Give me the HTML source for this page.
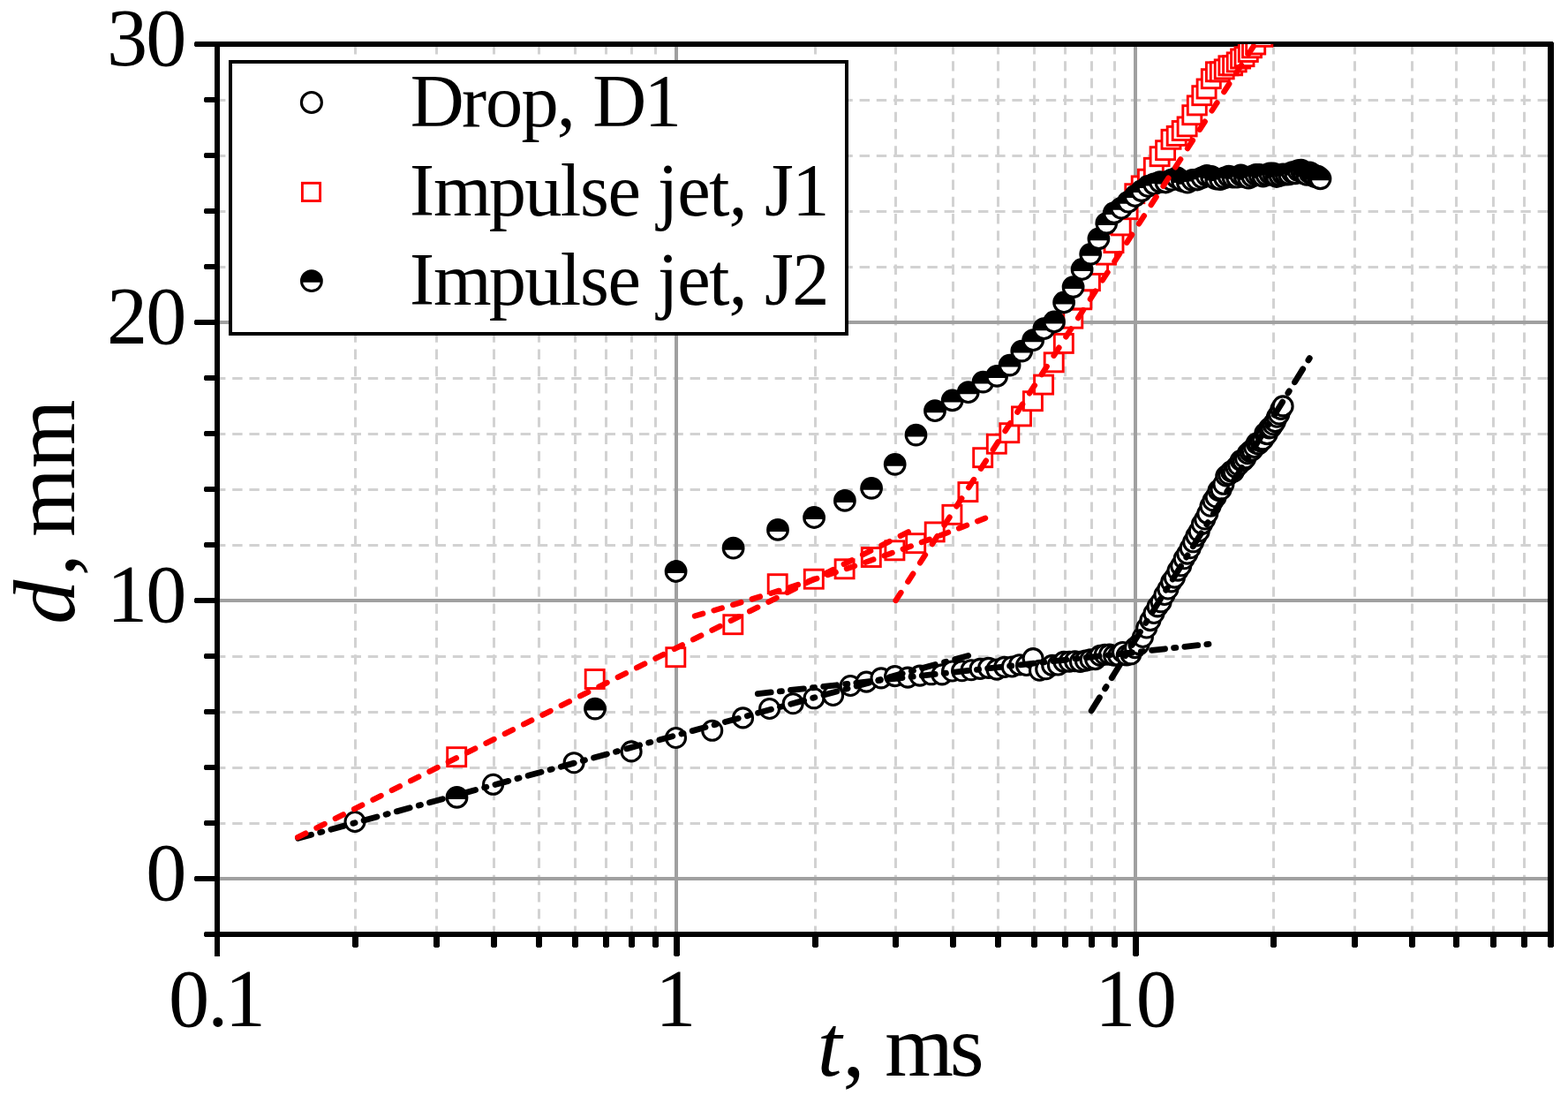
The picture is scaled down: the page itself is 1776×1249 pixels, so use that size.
<!DOCTYPE html>
<html lang="en"><head><meta charset="utf-8"><title>d vs t</title>
<style>html,body{margin:0;padding:0;background:#fff;overflow:hidden;}svg{display:block;}</style>
</head><body>
<svg width="1776" height="1249" viewBox="0 0 1776 1249">
<rect width="1776" height="1249" fill="#fff"/>
<defs><clipPath id="pc"><rect x="246" y="50" width="1510" height="1008"/></clipPath></defs>
<g stroke="#d2d2d2" stroke-width="3" stroke-dasharray="11.4 7.8" fill="none">
<path d="M244 932.5H1756.0"/>
<path d="M244 869.5H1756.0"/>
<path d="M244 806.5H1756.0"/>
<path d="M244 743.5H1756.0"/>
<path d="M244 617.5H1756.0"/>
<path d="M244 554.5H1756.0"/>
<path d="M244 491.5H1756.0"/>
<path d="M244 428.5H1756.0"/>
<path d="M244 302.5H1756.0"/>
<path d="M244 239.5H1756.0"/>
<path d="M244 176.5H1756.0"/>
<path d="M244 113.5H1756.0"/>
<path d="M402.5 50V1058.0"/>
<path d="M494.5 50V1058.0"/>
<path d="M559.5 50V1058.0"/>
<path d="M610.5 50V1058.0"/>
<path d="M651.5 50V1058.0"/>
<path d="M686.5 50V1058.0"/>
<path d="M715.5 50V1058.0"/>
<path d="M742.5 50V1058.0"/>
<path d="M923.5 50V1058.0"/>
<path d="M1014.5 50V1058.0"/>
<path d="M1079.5 50V1058.0"/>
<path d="M1130.5 50V1058.0"/>
<path d="M1171.5 50V1058.0"/>
<path d="M1206.5 50V1058.0"/>
<path d="M1236.5 50V1058.0"/>
<path d="M1262.5 50V1058.0"/>
<path d="M1442.5 50V1058.0"/>
<path d="M1534.5 50V1058.0"/>
<path d="M1599.5 50V1058.0"/>
<path d="M1649.5 50V1058.0"/>
<path d="M1691.5 50V1058.0"/>
<path d="M1726.5 50V1058.0"/>
</g>
<g stroke="#a0a0a0" stroke-width="4" fill="none">
<path d="M246.1 995H1756.0"/>
<path d="M246.1 680H1756.0"/>
<path d="M246.1 365H1756.0"/>
<path d="M766 50.0V1058.0"/>
<path d="M1286 50.0V1058.0"/>
</g>
<g fill="#000">
<rect x="243" y="47" width="6" height="1036" rx="0"/>
<path d="M1753 47H1758.6L1760 48.6V1071.6L1758.6 1073H1754.4L1753 1071.6Z"/>
<rect x="243" y="47" width="1515" height="6"/>
<rect x="243" y="1055" width="1515" height="6"/>
<path d="M221.2 47H246V53H221.2L220 51.8V48.2Z"/>
<path d="M232.2 1055H246V1061H232.2L231 1059.8V1056.2Z"/>
<path d="M221.2 992H246V998H221.2L220 996.8V993.2Z"/>
<path d="M232.2 929H246V935H232.2L231 933.8V930.2Z"/>
<path d="M232.2 866H246V872H232.2L231 870.8V867.2Z"/>
<path d="M232.2 803H246V809H232.2L231 807.8V804.2Z"/>
<path d="M232.2 740H246V746H232.2L231 744.8V741.2Z"/>
<path d="M221.2 677H246V683H221.2L220 681.8V678.2Z"/>
<path d="M232.2 614H246V620H232.2L231 618.8V615.2Z"/>
<path d="M232.2 551H246V557H232.2L231 555.8V552.2Z"/>
<path d="M232.2 488H246V494H232.2L231 492.8V489.2Z"/>
<path d="M232.2 425H246V431H232.2L231 429.8V426.2Z"/>
<path d="M221.2 362H246V368H221.2L220 366.8V363.2Z"/>
<path d="M232.2 299H246V305H232.2L231 303.8V300.2Z"/>
<path d="M232.2 236H246V242H232.2L231 240.8V237.2Z"/>
<path d="M232.2 173H246V179H232.2L231 177.8V174.2Z"/>
<path d="M232.2 110H246V116H232.2L231 114.8V111.2Z"/>
<path d="M243.0 1058H249.0V1081.6L247.6 1083H244.4L243.0 1081.6Z"/>
<path d="M399.0 1058H406.0V1071.6L404.6 1073H400.4L399.0 1071.6Z"/>
<path d="M491.0 1058H498.0V1071.6L496.6 1073H492.4L491.0 1071.6Z"/>
<path d="M556.0 1058H563.0V1071.6L561.6 1073H557.4L556.0 1071.6Z"/>
<path d="M607.0 1058H614.0V1071.6L612.6 1073H608.4L607.0 1071.6Z"/>
<path d="M648.0 1058H655.0V1071.6L653.6 1073H649.4L648.0 1071.6Z"/>
<path d="M683.0 1058H690.0V1071.6L688.6 1073H684.4L683.0 1071.6Z"/>
<path d="M712.0 1058H719.0V1071.6L717.6 1073H713.4L712.0 1071.6Z"/>
<path d="M739.0 1058H746.0V1071.6L744.6 1073H740.4L739.0 1071.6Z"/>
<path d="M763.0 1058H770.0V1081.6L768.6 1083H764.4L763.0 1081.6Z"/>
<path d="M920.0 1058H927.0V1071.6L925.6 1073H921.4L920.0 1071.6Z"/>
<path d="M1011.0 1058H1018.0V1071.6L1016.6 1073H1012.4L1011.0 1071.6Z"/>
<path d="M1076.0 1058H1083.0V1071.6L1081.6 1073H1077.4L1076.0 1071.6Z"/>
<path d="M1127.0 1058H1134.0V1071.6L1132.6 1073H1128.4L1127.0 1071.6Z"/>
<path d="M1168.0 1058H1175.0V1071.6L1173.6 1073H1169.4L1168.0 1071.6Z"/>
<path d="M1203.0 1058H1210.0V1071.6L1208.6 1073H1204.4L1203.0 1071.6Z"/>
<path d="M1233.0 1058H1240.0V1071.6L1238.6 1073H1234.4L1233.0 1071.6Z"/>
<path d="M1259.0 1058H1266.0V1071.6L1264.6 1073H1260.4L1259.0 1071.6Z"/>
<path d="M1283.0 1058H1290.0V1081.6L1288.6 1083H1284.4L1283.0 1081.6Z"/>
<path d="M1439.0 1058H1446.0V1071.6L1444.6 1073H1440.4L1439.0 1071.6Z"/>
<path d="M1531.0 1058H1538.0V1071.6L1536.6 1073H1532.4L1531.0 1071.6Z"/>
<path d="M1596.0 1058H1603.0V1071.6L1601.6 1073H1597.4L1596.0 1071.6Z"/>
<path d="M1646.0 1058H1653.0V1071.6L1651.6 1073H1647.4L1646.0 1071.6Z"/>
<path d="M1688.0 1058H1695.0V1071.6L1693.6 1073H1689.4L1688.0 1071.6Z"/>
<path d="M1723.0 1058H1730.0V1071.6L1728.6 1073H1724.4L1723.0 1071.6Z"/>
</g>
<g clip-path="url(#pc)">
<g fill="#fff" stroke="#000" stroke-width="3.1">
<circle cx="402.0" cy="930.5" r="11"/>
<circle cx="558.6" cy="888.3" r="11"/>
<circle cx="650.1" cy="863.7" r="11"/>
<circle cx="715.1" cy="850.9" r="11"/>
<circle cx="765.5" cy="835.5" r="11"/>
<circle cx="806.7" cy="827.3" r="11"/>
<circle cx="841.5" cy="812.9" r="11"/>
<circle cx="871.6" cy="802.5" r="11"/>
<circle cx="898.2" cy="796.7" r="11"/>
<circle cx="922.0" cy="790.8" r="11"/>
<circle cx="943.6" cy="787.5" r="11"/>
<circle cx="963.2" cy="776.5" r="11"/>
<circle cx="981.3" cy="772.1" r="11"/>
<circle cx="998.0" cy="767.9" r="11"/>
<circle cx="1013.6" cy="765.6" r="11"/>
<circle cx="1028.2" cy="767.1" r="11"/>
<circle cx="1041.9" cy="765.1" r="11"/>
<circle cx="1054.8" cy="763.8" r="11"/>
<circle cx="1067.0" cy="763.9" r="11"/>
<circle cx="1078.6" cy="760.0" r="11"/>
<circle cx="1089.6" cy="759.7" r="11"/>
<circle cx="1100.1" cy="758.7" r="11"/>
<circle cx="1110.1" cy="757.4" r="11"/>
<circle cx="1119.7" cy="756.4" r="11"/>
<circle cx="1129.0" cy="758.1" r="11"/>
<circle cx="1137.8" cy="755.4" r="11"/>
<circle cx="1146.3" cy="755.0" r="11"/>
<circle cx="1154.6" cy="752.8" r="11"/>
<circle cx="1162.5" cy="753.5" r="11"/>
<circle cx="1170.1" cy="745.6" r="11"/>
<circle cx="1177.5" cy="759.2" r="11"/>
<circle cx="1184.7" cy="757.7" r="11"/>
<circle cx="1191.7" cy="753.4" r="11"/>
<circle cx="1198.4" cy="753.0" r="11"/>
<circle cx="1205.0" cy="749.4" r="11"/>
<circle cx="1211.3" cy="749.2" r="11"/>
<circle cx="1217.5" cy="748.7" r="11"/>
<circle cx="1223.5" cy="749.4" r="11"/>
<circle cx="1229.4" cy="748.1" r="11"/>
<circle cx="1235.1" cy="746.9" r="11"/>
<circle cx="1240.7" cy="746.6" r="11"/>
<circle cx="1246.1" cy="742.4" r="11"/>
<circle cx="1251.4" cy="741.2" r="11"/>
<circle cx="1256.6" cy="741.1" r="11"/>
<circle cx="1261.7" cy="742.2" r="11"/>
<circle cx="1266.7" cy="742.4" r="11"/>
<circle cx="1271.5" cy="738.5" r="11"/>
<circle cx="1276.3" cy="742.0" r="11"/>
<circle cx="1280.9" cy="740.8" r="11"/>
<circle cx="1285.5" cy="733.6" r="11"/>
<circle cx="1290.0" cy="729.6" r="11"/>
<circle cx="1294.4" cy="721.5" r="11"/>
<circle cx="1298.7" cy="711.0" r="11"/>
<circle cx="1302.9" cy="702.6" r="11"/>
<circle cx="1307.0" cy="694.5" r="11"/>
<circle cx="1311.1" cy="686.9" r="11"/>
<circle cx="1315.1" cy="681.8" r="11"/>
<circle cx="1319.0" cy="673.5" r="11"/>
<circle cx="1322.9" cy="667.0" r="11"/>
<circle cx="1326.7" cy="658.9" r="11"/>
<circle cx="1330.4" cy="654.1" r="11"/>
<circle cx="1334.1" cy="646.1" r="11"/>
<circle cx="1337.7" cy="640.7" r="11"/>
<circle cx="1341.2" cy="632.7" r="11"/>
<circle cx="1344.8" cy="627.1" r="11"/>
<circle cx="1348.2" cy="620.7" r="11"/>
<circle cx="1351.6" cy="613.8" r="11"/>
<circle cx="1354.9" cy="606.8" r="11"/>
<circle cx="1358.2" cy="601.7" r="11"/>
<circle cx="1361.5" cy="593.4" r="11"/>
<circle cx="1364.7" cy="588.0" r="11"/>
<circle cx="1367.8" cy="581.6" r="11"/>
<circle cx="1371.0" cy="573.2" r="11"/>
<circle cx="1374.0" cy="566.9" r="11"/>
<circle cx="1377.1" cy="562.7" r="11"/>
<circle cx="1380.1" cy="555.4" r="11"/>
<circle cx="1383.0" cy="554.4" r="11"/>
<circle cx="1385.9" cy="548.3" r="11"/>
<circle cx="1388.8" cy="539.0" r="11"/>
<circle cx="1391.6" cy="537.2" r="11"/>
<circle cx="1394.4" cy="533.8" r="11"/>
<circle cx="1397.2" cy="534.1" r="11"/>
<circle cx="1400.0" cy="529.3" r="11"/>
<circle cx="1402.7" cy="526.7" r="11"/>
<circle cx="1405.3" cy="521.5" r="11"/>
<circle cx="1408.0" cy="521.9" r="11"/>
<circle cx="1410.6" cy="518.9" r="11"/>
<circle cx="1413.2" cy="513.7" r="11"/>
<circle cx="1415.7" cy="511.4" r="11"/>
<circle cx="1418.2" cy="510.0" r="11"/>
<circle cx="1420.7" cy="506.5" r="11"/>
<circle cx="1423.2" cy="502.1" r="11"/>
<circle cx="1425.6" cy="502.8" r="11"/>
<circle cx="1428.1" cy="499.9" r="11"/>
<circle cx="1430.5" cy="497.9" r="11"/>
<circle cx="1432.8" cy="490.7" r="11"/>
<circle cx="1435.2" cy="491.6" r="11"/>
<circle cx="1437.5" cy="485.0" r="11"/>
<circle cx="1439.8" cy="484.2" r="11"/>
<circle cx="1442.0" cy="480.7" r="11"/>
<circle cx="1444.3" cy="477.6" r="11"/>
<circle cx="1446.5" cy="472.2" r="11"/>
<circle cx="1448.7" cy="469.0" r="11"/>
<circle cx="1450.9" cy="463.4" r="11"/>
<circle cx="1453.1" cy="459.9" r="11"/>
</g>
<path d="M337.7 949.3L1100.4 741.4" fill="none" stroke="#000" stroke-width="6.8" stroke-linecap="round" stroke-dasharray="15.44 10.42 2.28 10.42"/>
<path d="M858.3 785.6L1372.0 729.0" fill="none" stroke="#000" stroke-width="6.8" stroke-linecap="round" stroke-dasharray="14.99 10.11 2.21 10.11"/>
<path d="M1236.2 804.8L1484.1 404.3" fill="none" stroke="#000" stroke-width="6.8" stroke-linecap="round" stroke-dasharray="17.52 11.82 2.59 11.82"/>
<g fill="#fff" stroke="#f00" stroke-width="2.9">
<rect x="506.7" y="846.7" width="21.0" height="21.0"/>
<rect x="663.2" y="758.5" width="21.0" height="21.0"/>
<rect x="754.8" y="733.7" width="21.0" height="21.0"/>
<rect x="819.8" y="696.7" width="21.0" height="21.0"/>
<rect x="870.2" y="650.7" width="21.0" height="21.0"/>
<rect x="911.3" y="645.2" width="21.0" height="21.0"/>
<rect x="946.1" y="633.8" width="21.0" height="21.0"/>
<rect x="976.3" y="620.5" width="21.0" height="21.0"/>
<rect x="1002.9" y="612.8" width="21.0" height="21.0"/>
<rect x="1026.7" y="604.7" width="21.0" height="21.0"/>
<rect x="1048.2" y="591.9" width="21.0" height="21.0"/>
<rect x="1067.9" y="572.3" width="21.0" height="21.0"/>
<rect x="1085.9" y="546.6" width="21.0" height="21.0"/>
<rect x="1102.7" y="507.7" width="21.0" height="21.0"/>
<rect x="1118.3" y="492.2" width="21.0" height="21.0"/>
<rect x="1132.8" y="479.7" width="21.0" height="21.0"/>
<rect x="1146.5" y="460.9" width="21.0" height="21.0"/>
<rect x="1159.4" y="443.7" width="21.0" height="21.0"/>
<rect x="1171.6" y="425.1" width="21.0" height="21.0"/>
<rect x="1183.2" y="399.8" width="21.0" height="21.0"/>
<rect x="1194.3" y="378.4" width="21.0" height="21.0"/>
<rect x="1204.8" y="350.2" width="21.0" height="21.0"/>
<rect x="1214.8" y="328.8" width="21.0" height="21.0"/>
<rect x="1224.4" y="307.7" width="21.0" height="21.0"/>
<rect x="1233.6" y="289.4" width="21.0" height="21.0"/>
<rect x="1242.5" y="278.1" width="21.0" height="21.0"/>
<rect x="1251.0" y="264.6" width="21.0" height="21.0"/>
<rect x="1259.2" y="244.9" width="21.0" height="21.0"/>
<rect x="1267.1" y="226.7" width="21.0" height="21.0"/>
<rect x="1274.8" y="208.7" width="21.0" height="21.0"/>
<rect x="1282.2" y="199.9" width="21.0" height="21.0"/>
<rect x="1289.4" y="192.2" width="21.0" height="21.0"/>
<rect x="1296.3" y="179.3" width="21.0" height="21.0"/>
<rect x="1303.1" y="166.7" width="21.0" height="21.0"/>
<rect x="1309.6" y="159.7" width="21.0" height="21.0"/>
<rect x="1316.0" y="147.3" width="21.0" height="21.0"/>
<rect x="1322.2" y="143.4" width="21.0" height="21.0"/>
<rect x="1328.2" y="137.5" width="21.0" height="21.0"/>
<rect x="1334.1" y="132.9" width="21.0" height="21.0"/>
<rect x="1339.8" y="119.7" width="21.0" height="21.0"/>
<rect x="1345.3" y="108.9" width="21.0" height="21.0"/>
<rect x="1350.8" y="97.7" width="21.0" height="21.0"/>
<rect x="1356.1" y="90.0" width="21.0" height="21.0"/>
<rect x="1361.3" y="78.7" width="21.0" height="21.0"/>
<rect x="1366.4" y="70.8" width="21.0" height="21.0"/>
<rect x="1371.3" y="70.8" width="21.0" height="21.0"/>
<rect x="1376.2" y="67.9" width="21.0" height="21.0"/>
<rect x="1380.9" y="63.8" width="21.0" height="21.0"/>
<rect x="1385.6" y="63.8" width="21.0" height="21.0"/>
<rect x="1390.2" y="59.9" width="21.0" height="21.0"/>
<rect x="1394.6" y="56.0" width="21.0" height="21.0"/>
<rect x="1399.0" y="53.7" width="21.0" height="21.0"/>
<rect x="1403.3" y="48.5" width="21.0" height="21.0"/>
<rect x="1407.5" y="43.8" width="21.0" height="21.0"/>
<rect x="1411.7" y="40.0" width="21.0" height="21.0"/>
<rect x="1415.8" y="19.7" width="21.0" height="21.0"/>
<rect x="1419.8" y="31.3" width="21.0" height="21.0"/>
</g>
<g fill="#fff" stroke="#000" stroke-width="3.2">
<circle cx="517.5" cy="902.9" r="11.3"/>
<path d="M506.4 904.9A11.3 11.3 0 1 1 528.6 904.9Z" fill="#000" stroke="none"/>
<circle cx="674.0" cy="802.6" r="11.3"/>
<path d="M662.9 804.6A11.3 11.3 0 1 1 685.2 804.6Z" fill="#000" stroke="none"/>
<circle cx="765.6" cy="647.0" r="11.3"/>
<path d="M754.5 649.0A11.3 11.3 0 1 1 776.7 649.0Z" fill="#000" stroke="none"/>
<circle cx="830.6" cy="620.7" r="11.3"/>
<path d="M819.4 622.7A11.3 11.3 0 1 1 841.7 622.7Z" fill="#000" stroke="none"/>
<circle cx="881.0" cy="599.9" r="11.3"/>
<path d="M869.8 601.9A11.3 11.3 0 1 1 892.1 601.9Z" fill="#000" stroke="none"/>
<circle cx="922.1" cy="586.0" r="11.3"/>
<path d="M911.0 588.0A11.3 11.3 0 1 1 933.3 588.0Z" fill="#000" stroke="none"/>
<circle cx="956.9" cy="566.9" r="11.3"/>
<path d="M945.8 568.9A11.3 11.3 0 1 1 968.1 568.9Z" fill="#000" stroke="none"/>
<circle cx="987.1" cy="552.8" r="11.3"/>
<path d="M976.0 554.8A11.3 11.3 0 1 1 998.2 554.8Z" fill="#000" stroke="none"/>
<circle cx="1013.7" cy="525.8" r="11.3"/>
<path d="M1002.6 527.8A11.3 11.3 0 1 1 1024.8 527.8Z" fill="#000" stroke="none"/>
<circle cx="1037.5" cy="492.6" r="11.3"/>
<path d="M1026.4 494.6A11.3 11.3 0 1 1 1048.6 494.6Z" fill="#000" stroke="none"/>
<circle cx="1059.0" cy="465.2" r="11.3"/>
<path d="M1047.9 467.2A11.3 11.3 0 1 1 1070.1 467.2Z" fill="#000" stroke="none"/>
<circle cx="1078.7" cy="453.4" r="11.3"/>
<path d="M1067.5 455.4A11.3 11.3 0 1 1 1089.8 455.4Z" fill="#000" stroke="none"/>
<circle cx="1096.7" cy="444.2" r="11.3"/>
<path d="M1085.6 446.2A11.3 11.3 0 1 1 1107.9 446.2Z" fill="#000" stroke="none"/>
<circle cx="1113.5" cy="432.6" r="11.3"/>
<path d="M1102.4 434.6A11.3 11.3 0 1 1 1124.6 434.6Z" fill="#000" stroke="none"/>
<circle cx="1129.1" cy="425.9" r="11.3"/>
<path d="M1117.9 427.9A11.3 11.3 0 1 1 1140.2 427.9Z" fill="#000" stroke="none"/>
<circle cx="1143.6" cy="413.6" r="11.3"/>
<path d="M1132.5 415.6A11.3 11.3 0 1 1 1154.8 415.6Z" fill="#000" stroke="none"/>
<circle cx="1157.3" cy="397.6" r="11.3"/>
<path d="M1146.2 399.6A11.3 11.3 0 1 1 1168.5 399.6Z" fill="#000" stroke="none"/>
<circle cx="1170.2" cy="385.2" r="11.3"/>
<path d="M1159.1 387.2A11.3 11.3 0 1 1 1181.4 387.2Z" fill="#000" stroke="none"/>
<circle cx="1182.4" cy="372.2" r="11.3"/>
<path d="M1171.3 374.2A11.3 11.3 0 1 1 1193.6 374.2Z" fill="#000" stroke="none"/>
<circle cx="1194.0" cy="364.5" r="11.3"/>
<path d="M1182.9 366.5A11.3 11.3 0 1 1 1205.2 366.5Z" fill="#000" stroke="none"/>
<circle cx="1205.1" cy="342.5" r="11.3"/>
<path d="M1193.9 344.5A11.3 11.3 0 1 1 1216.2 344.5Z" fill="#000" stroke="none"/>
<circle cx="1215.6" cy="325.1" r="11.3"/>
<path d="M1204.4 327.1A11.3 11.3 0 1 1 1226.7 327.1Z" fill="#000" stroke="none"/>
<circle cx="1225.6" cy="305.0" r="11.3"/>
<path d="M1214.5 307.0A11.3 11.3 0 1 1 1236.7 307.0Z" fill="#000" stroke="none"/>
<circle cx="1235.2" cy="287.8" r="11.3"/>
<path d="M1224.1 289.8A11.3 11.3 0 1 1 1246.3 289.8Z" fill="#000" stroke="none"/>
<circle cx="1244.4" cy="270.3" r="11.3"/>
<path d="M1233.3 272.3A11.3 11.3 0 1 1 1255.5 272.3Z" fill="#000" stroke="none"/>
<circle cx="1253.3" cy="252.9" r="11.3"/>
<path d="M1242.2 254.9A11.3 11.3 0 1 1 1264.4 254.9Z" fill="#000" stroke="none"/>
<circle cx="1261.8" cy="241.1" r="11.3"/>
<path d="M1250.7 243.1A11.3 11.3 0 1 1 1272.9 243.1Z" fill="#000" stroke="none"/>
<circle cx="1270.0" cy="235.7" r="11.3"/>
<path d="M1258.9 237.7A11.3 11.3 0 1 1 1281.1 237.7Z" fill="#000" stroke="none"/>
<circle cx="1277.9" cy="228.7" r="11.3"/>
<path d="M1266.8 230.7A11.3 11.3 0 1 1 1289.1 230.7Z" fill="#000" stroke="none"/>
<circle cx="1285.6" cy="222.0" r="11.3"/>
<path d="M1274.5 224.0A11.3 11.3 0 1 1 1296.7 224.0Z" fill="#000" stroke="none"/>
<circle cx="1293.0" cy="216.1" r="11.3"/>
<path d="M1281.9 218.1A11.3 11.3 0 1 1 1304.1 218.1Z" fill="#000" stroke="none"/>
<circle cx="1300.2" cy="211.0" r="11.3"/>
<path d="M1289.1 213.0A11.3 11.3 0 1 1 1311.3 213.0Z" fill="#000" stroke="none"/>
<circle cx="1307.1" cy="208.5" r="11.3"/>
<path d="M1296.0 210.5A11.3 11.3 0 1 1 1318.2 210.5Z" fill="#000" stroke="none"/>
<circle cx="1313.9" cy="206.1" r="11.3"/>
<path d="M1302.7 208.1A11.3 11.3 0 1 1 1325.0 208.1Z" fill="#000" stroke="none"/>
<circle cx="1320.4" cy="206.5" r="11.3"/>
<path d="M1309.3 208.5A11.3 11.3 0 1 1 1331.5 208.5Z" fill="#000" stroke="none"/>
<circle cx="1326.8" cy="203.7" r="11.3"/>
<path d="M1315.7 205.7A11.3 11.3 0 1 1 1337.9 205.7Z" fill="#000" stroke="none"/>
<circle cx="1333.0" cy="201.2" r="11.3"/>
<path d="M1321.8 203.2A11.3 11.3 0 1 1 1344.1 203.2Z" fill="#000" stroke="none"/>
<circle cx="1339.0" cy="205.0" r="11.3"/>
<path d="M1327.9 207.0A11.3 11.3 0 1 1 1350.1 207.0Z" fill="#000" stroke="none"/>
<circle cx="1344.9" cy="206.7" r="11.3"/>
<path d="M1333.7 208.7A11.3 11.3 0 1 1 1356.0 208.7Z" fill="#000" stroke="none"/>
<circle cx="1350.6" cy="203.9" r="11.3"/>
<path d="M1339.4 205.9A11.3 11.3 0 1 1 1361.7 205.9Z" fill="#000" stroke="none"/>
<circle cx="1356.1" cy="203.5" r="11.3"/>
<path d="M1345.0 205.5A11.3 11.3 0 1 1 1367.3 205.5Z" fill="#000" stroke="none"/>
<circle cx="1361.6" cy="201.2" r="11.3"/>
<path d="M1350.5 203.2A11.3 11.3 0 1 1 1372.7 203.2Z" fill="#000" stroke="none"/>
<circle cx="1366.9" cy="199.0" r="11.3"/>
<path d="M1355.8 201.0A11.3 11.3 0 1 1 1378.0 201.0Z" fill="#000" stroke="none"/>
<circle cx="1372.1" cy="199.9" r="11.3"/>
<path d="M1361.0 201.9A11.3 11.3 0 1 1 1383.2 201.9Z" fill="#000" stroke="none"/>
<circle cx="1377.2" cy="202.5" r="11.3"/>
<path d="M1366.0 204.5A11.3 11.3 0 1 1 1388.3 204.5Z" fill="#000" stroke="none"/>
<circle cx="1382.1" cy="203.1" r="11.3"/>
<path d="M1371.0 205.1A11.3 11.3 0 1 1 1393.3 205.1Z" fill="#000" stroke="none"/>
<circle cx="1387.0" cy="201.4" r="11.3"/>
<path d="M1375.9 203.4A11.3 11.3 0 1 1 1398.1 203.4Z" fill="#000" stroke="none"/>
<circle cx="1391.7" cy="199.7" r="11.3"/>
<path d="M1380.6 201.7A11.3 11.3 0 1 1 1402.9 201.7Z" fill="#000" stroke="none"/>
<circle cx="1396.4" cy="200.6" r="11.3"/>
<path d="M1385.3 202.6A11.3 11.3 0 1 1 1407.5 202.6Z" fill="#000" stroke="none"/>
<circle cx="1401.0" cy="200.7" r="11.3"/>
<path d="M1389.8 202.7A11.3 11.3 0 1 1 1412.1 202.7Z" fill="#000" stroke="none"/>
<circle cx="1405.4" cy="198.4" r="11.3"/>
<path d="M1394.3 200.4A11.3 11.3 0 1 1 1416.6 200.4Z" fill="#000" stroke="none"/>
<circle cx="1409.8" cy="200.4" r="11.3"/>
<path d="M1398.7 202.4A11.3 11.3 0 1 1 1420.9 202.4Z" fill="#000" stroke="none"/>
<circle cx="1414.1" cy="201.7" r="11.3"/>
<path d="M1403.0 203.7A11.3 11.3 0 1 1 1425.2 203.7Z" fill="#000" stroke="none"/>
<circle cx="1418.3" cy="199.7" r="11.3"/>
<path d="M1407.2 201.7A11.3 11.3 0 1 1 1429.5 201.7Z" fill="#000" stroke="none"/>
<circle cx="1422.5" cy="197.9" r="11.3"/>
<path d="M1411.4 199.9A11.3 11.3 0 1 1 1433.6 199.9Z" fill="#000" stroke="none"/>
<circle cx="1426.6" cy="198.0" r="11.3"/>
<path d="M1415.4 200.0A11.3 11.3 0 1 1 1437.7 200.0Z" fill="#000" stroke="none"/>
<circle cx="1430.6" cy="199.7" r="11.3"/>
<path d="M1419.4 201.7A11.3 11.3 0 1 1 1441.7 201.7Z" fill="#000" stroke="none"/>
<circle cx="1434.5" cy="198.1" r="11.3"/>
<path d="M1423.4 200.1A11.3 11.3 0 1 1 1445.6 200.1Z" fill="#000" stroke="none"/>
<circle cx="1438.3" cy="196.5" r="11.3"/>
<path d="M1427.2 198.5A11.3 11.3 0 1 1 1449.5 198.5Z" fill="#000" stroke="none"/>
<circle cx="1442.1" cy="196.5" r="11.3"/>
<path d="M1431.0 198.5A11.3 11.3 0 1 1 1453.3 198.5Z" fill="#000" stroke="none"/>
<circle cx="1445.9" cy="200.0" r="11.3"/>
<path d="M1434.7 202.0A11.3 11.3 0 1 1 1457.0 202.0Z" fill="#000" stroke="none"/>
<circle cx="1449.5" cy="198.8" r="11.3"/>
<path d="M1438.4 200.8A11.3 11.3 0 1 1 1460.7 200.8Z" fill="#000" stroke="none"/>
<circle cx="1453.2" cy="197.4" r="11.3"/>
<path d="M1442.0 199.4A11.3 11.3 0 1 1 1464.3 199.4Z" fill="#000" stroke="none"/>
<circle cx="1456.7" cy="197.7" r="11.3"/>
<path d="M1445.6 199.7A11.3 11.3 0 1 1 1467.8 199.7Z" fill="#000" stroke="none"/>
<circle cx="1460.2" cy="197.4" r="11.3"/>
<path d="M1449.1 199.4A11.3 11.3 0 1 1 1471.3 199.4Z" fill="#000" stroke="none"/>
<circle cx="1463.7" cy="195.1" r="11.3"/>
<path d="M1452.5 197.1A11.3 11.3 0 1 1 1474.8 197.1Z" fill="#000" stroke="none"/>
<circle cx="1467.1" cy="196.4" r="11.3"/>
<path d="M1455.9 198.4A11.3 11.3 0 1 1 1478.2 198.4Z" fill="#000" stroke="none"/>
<circle cx="1470.4" cy="193.1" r="11.3"/>
<path d="M1459.3 195.1A11.3 11.3 0 1 1 1481.5 195.1Z" fill="#000" stroke="none"/>
<circle cx="1473.7" cy="192.6" r="11.3"/>
<path d="M1462.6 194.6A11.3 11.3 0 1 1 1484.8 194.6Z" fill="#000" stroke="none"/>
<circle cx="1476.9" cy="196.3" r="11.3"/>
<path d="M1465.8 198.3A11.3 11.3 0 1 1 1488.1 198.3Z" fill="#000" stroke="none"/>
<circle cx="1480.2" cy="197.9" r="11.3"/>
<path d="M1469.0 199.9A11.3 11.3 0 1 1 1491.3 199.9Z" fill="#000" stroke="none"/>
<circle cx="1483.3" cy="195.5" r="11.3"/>
<path d="M1472.2 197.5A11.3 11.3 0 1 1 1494.4 197.5Z" fill="#000" stroke="none"/>
<circle cx="1486.4" cy="197.2" r="11.3"/>
<path d="M1475.3 199.2A11.3 11.3 0 1 1 1497.5 199.2Z" fill="#000" stroke="none"/>
<circle cx="1489.5" cy="200.2" r="11.3"/>
<path d="M1478.4 202.2A11.3 11.3 0 1 1 1500.6 202.2Z" fill="#000" stroke="none"/>
<circle cx="1492.5" cy="199.7" r="11.3"/>
<path d="M1481.4 201.7A11.3 11.3 0 1 1 1503.7 201.7Z" fill="#000" stroke="none"/>
<circle cx="1495.5" cy="202.3" r="11.3"/>
<path d="M1484.4 204.3A11.3 11.3 0 1 1 1506.6 204.3Z" fill="#000" stroke="none"/>
</g>
<path d="M337.2 948.2L1029.0 602.3" fill="none" stroke="#f00" stroke-width="6.4" stroke-linecap="round" stroke-dasharray="10.06 13.79"/>
<path d="M787.0 697.5L800.8 693.5L814.5 689.5L828.3 685.4L842.1 681.3L855.9 677.1L869.6 672.9L883.4 668.6L897.2 664.2L911.0 659.8L924.8 655.3L938.5 650.8L952.3 646.2L966.1 641.6L979.8 636.9L993.6 632.1L1007.4 627.2L1021.2 622.3L1034.9 617.4L1048.7 612.3L1062.5 607.2L1076.3 602.0L1090.0 596.8L1103.8 591.5L1117.6 586.1" fill="none" stroke="#f00" stroke-width="6.4" stroke-linecap="round" stroke-dasharray="9.50 13.02"/>
<path d="M1014.6 680.0L1420.0 52.0" fill="none" stroke="#f00" stroke-width="6.4" stroke-linecap="round" stroke-dasharray="10.71 14.68"/>
</g>
<rect x="261" y="70" width="698" height="308" fill="#fff" stroke="#000" stroke-width="4"/>
<g font-family="'Liberation Serif',serif" fill="#000">
<text x="165.16" y="1018.6" font-size="92.3" >0</text>
<text x="120.95 165.16" y="703.6" font-size="92.3" >10</text>
<text x="120.95 165.16" y="388.6" font-size="92.3" >20</text>
<text x="120.95 165.16" y="73.6" font-size="92.3" >30</text>
<text x="190.99 235.20 254.71" y="1162" font-size="92.3" >0.1</text>
<text x="742.17" y="1162" font-size="92.3" >1</text>
<text x="1240.37 1286.78" y="1162" font-size="92.3" >10</text>
<text font-size="100" y="1217.8"><tspan font-style="italic" x="925.8">t</tspan><tspan x="954.4">, </tspan><tspan x="1002.2 1075.8">ms</tspan></text>
<text font-size="100" transform="translate(84 706.8) rotate(-90)"><tspan font-style="italic" x="0">d</tspan><tspan x="54.5">, </tspan><tspan x="99 176.5">mm</tspan></text>
<text x="464.64 523.03 549.95 590.38 630.81 651.02 671.24 729.63" y="143.2" font-size="84.4" >Drop, D1</text>
<text x="463.96 490.89 553.78 594.21 634.63 657.10 688.56 724.45 744.66 767.13 803.02 825.48 845.69 865.91 897.37" y="244.4" font-size="84.4" >Impulse jet, J1</text>
<text x="463.96 490.89 553.78 594.21 634.63 657.10 688.56 724.45 744.66 767.13 803.02 825.48 845.69 865.91 897.37" y="345.2" font-size="84.4" >Impulse jet, J2</text>
</g>
<circle cx="352.9" cy="116" r="11.5" fill="#fff" stroke="#000" stroke-width="3.1"/>
<rect x="342.4" y="207.3" width="20.2" height="20.2" fill="#fff" stroke="#f00" stroke-width="2.9"/>
<g><circle cx="352.9" cy="318.2" r="11.4" fill="#fff" stroke="#000" stroke-width="3"/><path d="M341.6 319.8A11.4 11.4 0 1 1 364.2 319.8Z" fill="#000"/></g>
</svg>
</body></html>
